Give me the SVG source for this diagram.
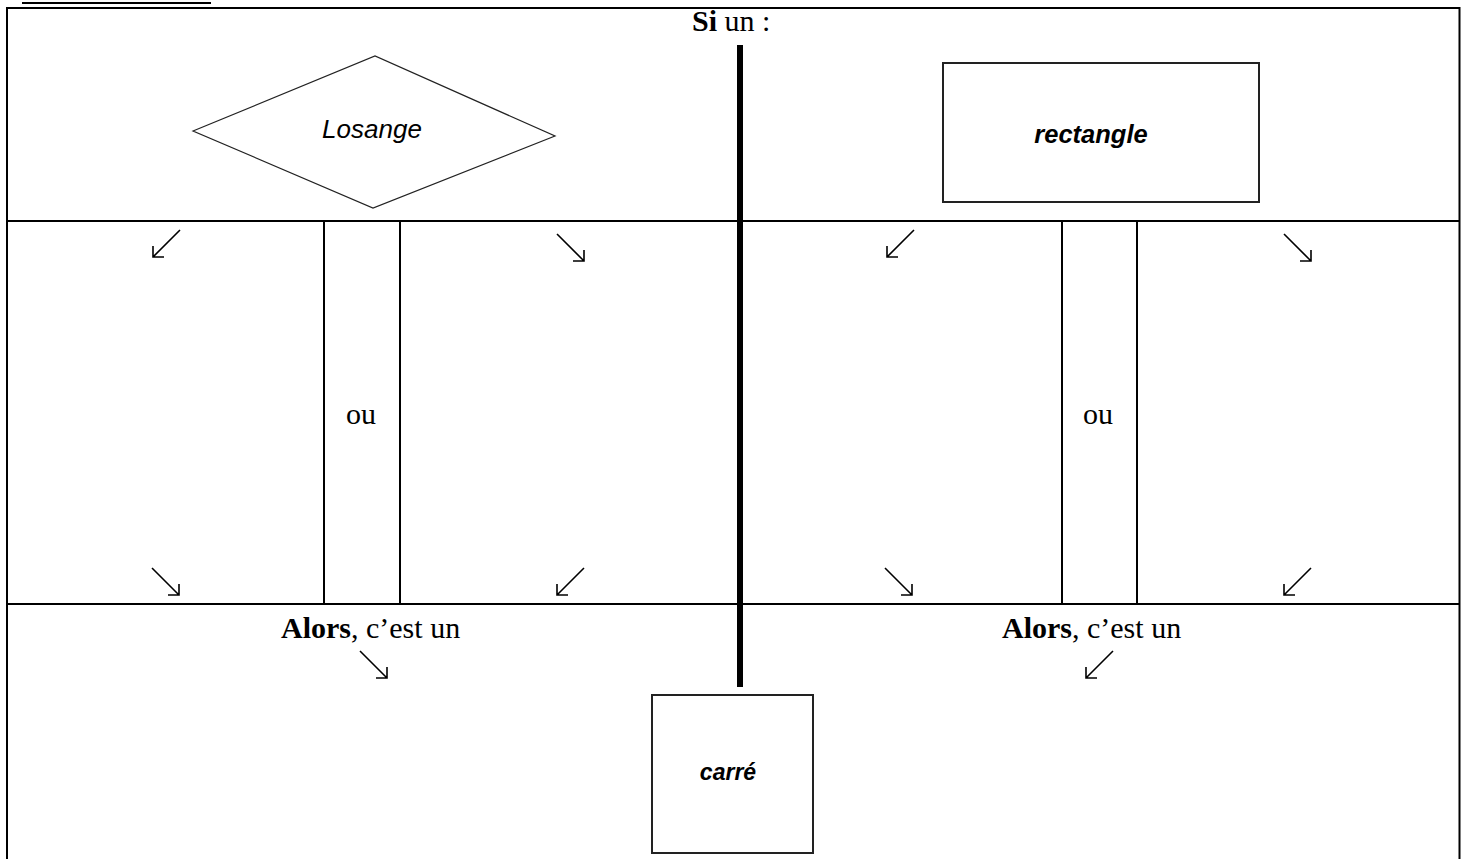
<svg xmlns="http://www.w3.org/2000/svg" xmlns:xlink="http://www.w3.org/1999/xlink" width="1468" height="859" viewBox="0 0 1468 859">
<style>
.frame{fill:none;stroke:#000;stroke-width:2}
.shape{fill:#fff;stroke:#222;}
.tnr{font-family:"Liberation Serif","Times New Roman",serif;font-size:30px;fill:#000}
.lab{font-family:"Liberation Sans",Arial,sans-serif;font-style:italic;fill:#000;text-anchor:middle}
.arr{fill:none;stroke:#000;stroke-width:1.6}
</style>
<defs>
<g id="se"><path class="arr" d="M-14,-14 L13,13 M13,2 L13,13 L2,13"/></g>
<g id="sw"><path class="arr" d="M14,-14 L-13,13 M-13,2 L-13,13 L-2,13"/></g>
</defs>
<rect width="1468" height="859" fill="#fff"/>
<g id="frame">
<line x1="22" y1="3" x2="211" y2="3" stroke="#000" stroke-width="2"/>
<path class="frame" d="M7,870 V8 H1459.5 V870"/>
<line class="frame" x1="7" y1="221" x2="1460" y2="221"/>
<line class="frame" x1="7" y1="604" x2="1460" y2="604"/>
<line class="frame" x1="324" y1="221" x2="324" y2="604"/>
<line class="frame" x1="400" y1="221" x2="400" y2="604"/>
<line class="frame" x1="1062" y1="221" x2="1062" y2="604"/>
<line class="frame" x1="1137" y1="221" x2="1137" y2="604"/>
</g>
<g id="axis">
<line x1="740" y1="45" x2="740" y2="687" stroke="#000" stroke-width="6"/>
</g>
<g id="title">
<text class="tnr" x="692" y="31"><tspan font-weight="bold">Si</tspan> un :</text>
</g>
<g id="losange">
<polygon class="shape" stroke-width="1.2" points="193,131 375,56 555,136 373,208"/>
<text class="lab" x="372" y="138" font-size="26">Losange</text>
</g>
<g id="rectangle">
<rect class="shape" stroke-width="2" x="943" y="63" width="316" height="139"/>
<text class="lab" x="1091" y="143" font-size="25.5" font-weight="bold">rectangle</text>
</g>
<g id="carre">
<rect class="shape" stroke-width="2" x="652" y="695" width="161" height="158"/>
<text class="lab" x="728" y="780" font-size="23" font-weight="bold">carré</text>
</g>
<g id="ou-left"><text class="tnr" x="346" y="424">ou</text></g>
<g id="ou-right"><text class="tnr" x="1083" y="424">ou</text></g>
<g id="alors-left"><text class="tnr" x="281" y="638"><tspan font-weight="bold">Alors</tspan>, c’est un</text></g>
<g id="alors-right"><text class="tnr" x="1002" y="638"><tspan font-weight="bold">Alors</tspan>, c’est un</text></g>
<g id="connectors">
<use xlink:href="#sw" x="166" y="244"/>
<use xlink:href="#se" x="571" y="248"/>
<use xlink:href="#sw" x="900" y="244"/>
<use xlink:href="#se" x="1298" y="248"/>
<use xlink:href="#se" x="166" y="582"/>
<use xlink:href="#sw" x="570" y="582"/>
<use xlink:href="#se" x="899" y="582"/>
<use xlink:href="#sw" x="1297" y="582"/>
<use xlink:href="#se" x="374" y="665"/>
<use xlink:href="#sw" x="1099" y="665"/>
</g>
</svg>
